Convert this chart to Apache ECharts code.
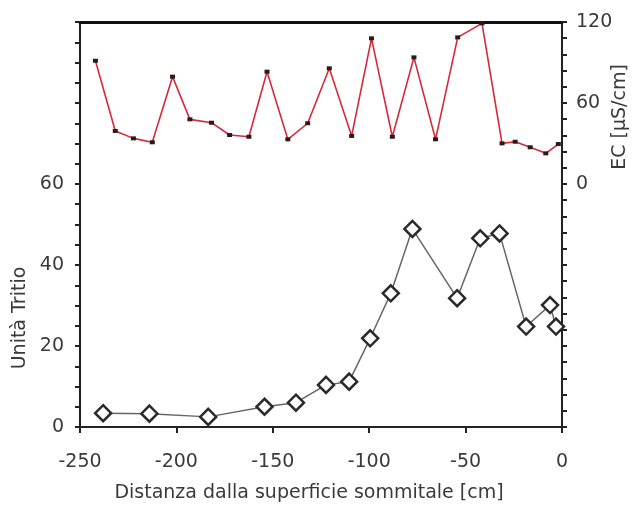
<!DOCTYPE html>
<html>
<head>
<meta charset="utf-8">
<script src="https://cdn.jsdelivr.net/npm/echarts@6/dist/echarts.min.js"></script>
<style>
  html, body { margin: 0; padding: 0; background: #fff; }
  #chart { width: 632px; height: 509px; }
</style>
</head>
<body>
<div id="chart"></div>
<script>
// Tritium profile (Unità Tritio) versus depth [cm]
const tritioDepth = [-238, -214, -183.5, -154.3, -138, -122.4, -110.4, -99.5, -88.8, -77.6, -54.4, -42.4, -32.4, -18.6, -6.2, -3.1];
const tritioValues = [3.4, 3.3, 2.5, 5.0, 6.0, 10.4, 11.2, 21.9, 33.0, 48.9, 31.8, 46.6, 47.8, 24.8, 30.1, 24.8];

// Electrical conductivity EC [µS/cm] versus depth [cm]
const ecDepth = [-242, -231.7, -222.3, -212.5, -202, -193, -181.8, -172.4, -162.4, -153, -142.2, -131.9, -120.7, -109.1, -98.8, -88, -76.8, -65.6, -54.1, -41.5, -31.1, -24.3, -16.5, -8.4, -1.9];
const ecValues = [91.3, 39.3, 33.8, 30.9, 79.5, 47.9, 45.4, 36.3, 35.0, 83.2, 33.1, 45.0, 85.7, 35.6, 107.9, 35.0, 93.8, 33.1, 108.6, 119, 30.1, 31.3, 27.2, 22.7, 29.6];

// Tick labels shown on each axis
const xTicks = [-250, -200, -150, -100, -50, 0];
const leftLabels = [0, 20, 40, 60];
const rightLabels = [0, 60, 120];

const FONT = 'DejaVu Sans';
const FS = 19;
const TXT = '#3a3a3a';
const chart = echarts.init(document.getElementById('chart'), null, { renderer: 'canvas' });

const zip = (xs, ys) => xs.map((x, i) => [x, ys[i]]);

chart.setOption({
  animation: false,
  backgroundColor: '#fff',
  grid: { left: 80, right: 70, top: 22, bottom: 82 },
  xAxis: [
    {
      type: 'value', min: -250, max: 0, interval: 50, position: 'bottom',
      axisLine: { show: true, onZero: false, lineStyle: { color: '#222', width: 2 } },
      axisTick: { show: true, length: 6, lineStyle: { color: '#222', width: 2 } },
      axisLabel: {
        color: TXT, fontFamily: FONT, fontSize: FS, margin: 26,
        formatter: v => xTicks.includes(v) ? String(v) : ''
      },
      splitLine: { show: false },
      name: 'Distanza dalla superficie sommitale [cm]',
      nameLocation: 'middle', nameGap: 57,
      nameTextStyle: { color: TXT, fontFamily: FONT, fontSize: FS, padding: [0, 24, 0, 0] }
    },
    {
      // upper frame line
      type: 'value', min: -250, max: 0, position: 'top',
      axisLine: { show: true, onZero: false, lineStyle: { color: '#111', width: 3 } },
      axisTick: { show: false }, axisLabel: { show: false }, splitLine: { show: false }
    }
  ],
  yAxis: [
    {
      type: 'value', min: 0, max: 100, interval: 5, position: 'left',
      axisLine: { show: true, onZero: false, lineStyle: { color: '#222', width: 2 } },
      axisTick: { show: true, length: 5, lineStyle: { color: '#222', width: 2 } },
      axisLabel: {
        color: TXT, fontFamily: FONT, fontSize: FS, margin: 16,
        formatter: v => leftLabels.includes(v) ? String(v) : ''
      },
      splitLine: { show: false }
    },
    {
      type: 'value', min: -180, max: 120, interval: 12, position: 'right',
      axisLine: { show: true, onZero: false, lineStyle: { color: '#222', width: 2 } },
      axisTick: { show: true, length: 5, lineStyle: { color: '#222', width: 2 } },
      axisLabel: {
        color: TXT, fontFamily: FONT, fontSize: FS, margin: 14,
        formatter: v => rightLabels.includes(v) ? String(v) : ''
      },
      splitLine: { show: false }
    }
  ],
  graphic: [
    {
      type: 'text', x: 20, y: 318, rotation: Math.PI / 2,
      style: { text: 'Unità Tritio', fill: TXT, font: FS + 'px "DejaVu Sans"', align: 'center', verticalAlign: 'middle' }
    },
    {
      type: 'text', x: 620, y: 117, rotation: Math.PI / 2,
      style: { text: 'EC [µS/cm]', fill: TXT, font: FS + 'px "DejaVu Sans"', align: 'center', verticalAlign: 'middle' }
    }
  ],
  series: [
    {
      name: 'EC', type: 'line', xAxisIndex: 0, yAxisIndex: 1,
      data: zip(ecDepth, ecValues),
      lineStyle: { color: '#d8283a', width: 1.6 },
      symbol: 'rect', symbolSize: [5, 4],
      itemStyle: { color: '#2a1a1a' },
      z: 3
    },
    {
      name: 'Tritio', type: 'line', xAxisIndex: 0, yAxisIndex: 0,
      data: zip(tritioDepth, tritioValues),
      lineStyle: { color: '#666', width: 1.5 },
      symbol: 'diamond', symbolSize: [16, 16],
      itemStyle: { color: '#fff', borderColor: '#2a2a2a', borderWidth: 2.5 },
      z: 4
    }
  ]
});
</script>
</body>
</html>
